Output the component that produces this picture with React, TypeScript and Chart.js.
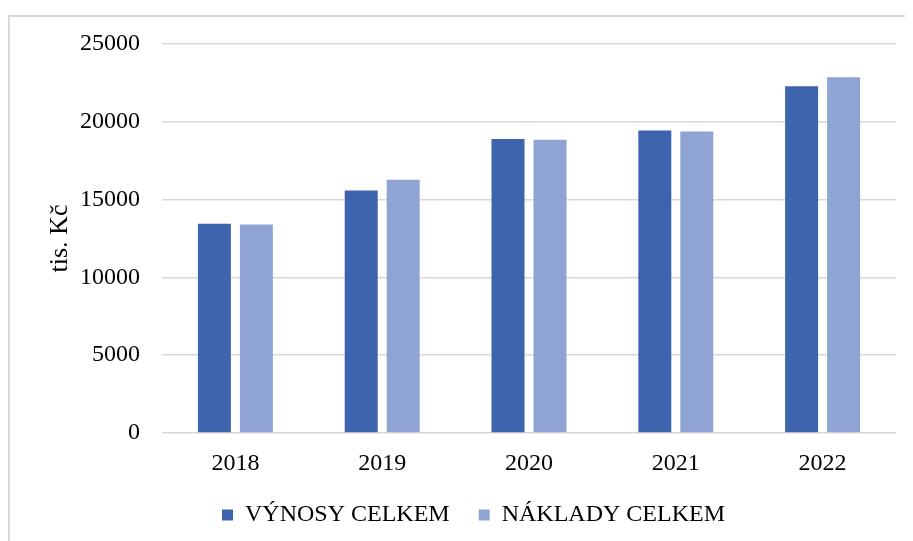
import React, { useEffect, useRef } from "react";
import { Chart, registerables } from "chart.js";

Chart.register(...registerables);

const categories = ["2018", "2019", "2020", "2021", "2022"];
const vynosy = [13450, 15580, 18890, 19440, 22280];
const naklady = [13400, 16270, 18840, 19380, 22860];
const seriesNames = ["VÝNOSY CELKEM", "NÁKLADY CELKEM"];
const yTicks = [0, 5000, 10000, 15000, 20000, 25000];

const FONT = "'Liberation Serif', 'Times New Roman', serif";

export default function App() {
  const ref = useRef<HTMLCanvasElement | null>(null);

  useEffect(() => {
    if (!ref.current) return;
    document.body.style.overflow = "hidden";
    const chart = new Chart(ref.current, {
      type: "bar",
      data: {
        labels: categories,
        datasets: [
          {
            label: seriesNames[0],
            data: vynosy,
            backgroundColor: "#3e64ad",
            borderColor: "#3e64ad",
            borderWidth: 0,
            categoryPercentage: 0.572,
            barPercentage: 0.786,
          },
          {
            label: seriesNames[1],
            data: naklady,
            backgroundColor: "#8fa3d4",
            borderColor: "#8fa3d4",
            borderWidth: 0,
            categoryPercentage: 0.572,
            barPercentage: 0.786,
          },
        ],
      },
      options: {
        animation: false,
        responsive: false,
        maintainAspectRatio: false,
        layout: { padding: { left: 41, right: 17, top: 27, bottom: 4 } },
        plugins: {
          tooltip: { enabled: false },
          legend: {
            position: "bottom",
            labels: {
              boxWidth: 11,
              boxHeight: 11,
              padding: 29,
              color: "#000",
              font: { family: FONT, size: 24 },
            },
          },
        },
        scales: {
          x: {
            grid: { display: false, drawTicks: false },
            border: { display: false },
            ticks: {
              color: "#000",
              padding: 16,
              font: { family: FONT, size: 24 },
            },
            afterFit: (s: any) => {
              s.height = 41;
            },
          },
          y: {
            min: 0,
            max: 25000,
            afterBuildTicks: (s: any) => {
              s.ticks = yTicks.map((v) => ({ value: v }));
            },
            grid: {
              color: "#d9d9d9",
              lineWidth: 1.5,
              drawTicks: true,
              tickLength: 22,
              tickColor: "rgba(0,0,0,0)",
            },
            border: { display: false },
            ticks: {
              color: "#000",
              padding: 0,
              font: { family: FONT, size: 24 },
              callback: (v: any) => String(v),
            },
            title: {
              display: true,
              text: "tis. Kč",
              color: "#000",
              padding: { top: -6, bottom: 5 },
              font: { family: FONT, size: 26 },
            },
            afterFit: (s: any) => {
              s.width = 111;
            },
          },
        },
      },
    });
    return () => chart.destroy();
  }, []);

  return (
    <div
      style={{
        marginTop: 7,
        width: 905,
        height: 526,
        overflow: "hidden",
        boxSizing: "border-box",
        borderTop: "2px solid #d9d9d9",
        borderLeft: "2px solid #d9d9d9",
        background: "#fff",
      }}
    >
      <canvas ref={ref} width={903} height={524} style={{ display: "block" }} />
    </div>
  );
}
